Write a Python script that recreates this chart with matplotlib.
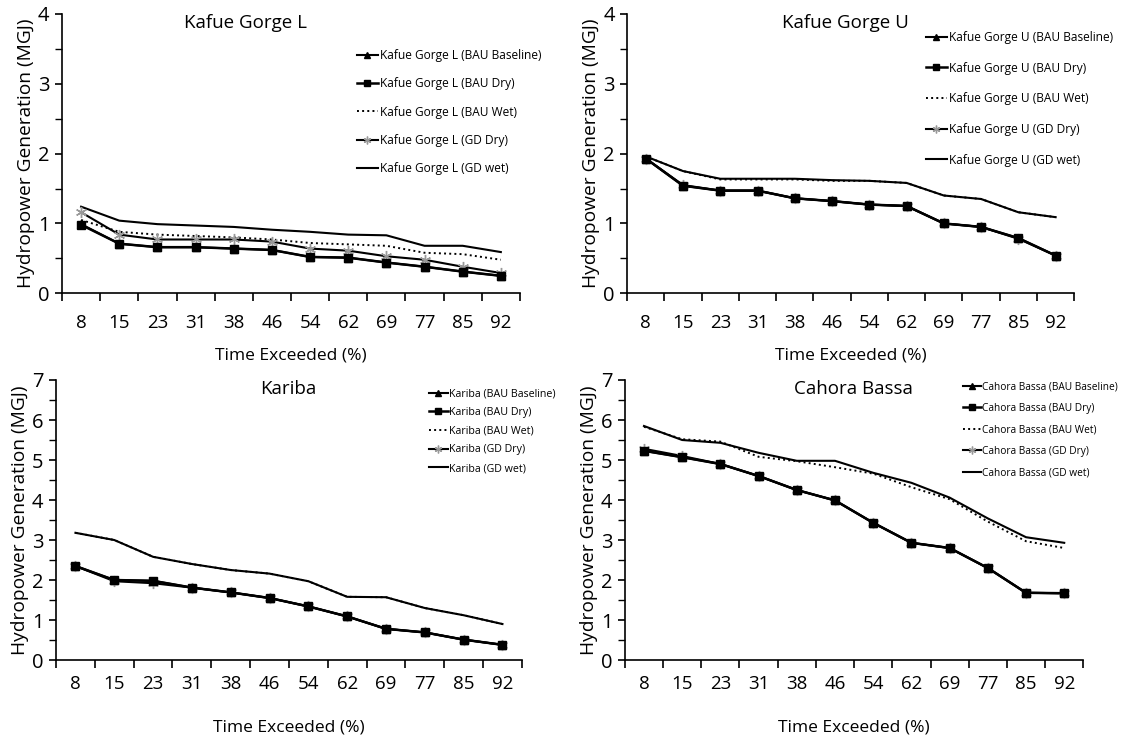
import numpy as np
import matplotlib.pyplot as plt
from matplotlib.ticker import FixedLocator, MultipleLocator

plt.rcParams['font.family'] = ['Open Sans', 'DejaVu Sans']

# categories (time exceeded, %)
exceed = ['8', '15', '23', '31', '38', '46', '54', '62', '69', '77', '85', '92']
scenarios = ['BAU Baseline', 'BAU Dry', 'BAU Wet', 'GD Dry', 'GD wet']

# Kafue Gorge L
kgl_bau_base = [0.99, 0.71, 0.66, 0.66, 0.64, 0.62, 0.52, 0.51, 0.44, 0.38, 0.31, 0.25]
kgl_bau_dry = [0.98, 0.71, 0.66, 0.66, 0.64, 0.62, 0.52, 0.51, 0.44, 0.38, 0.31, 0.25]
kgl_bau_wet = [1.05, 0.88, 0.84, 0.82, 0.80, 0.77, 0.72, 0.70, 0.68, 0.58, 0.56, 0.48]
kgl_gd_dry = [1.16, 0.84, 0.77, 0.77, 0.77, 0.74, 0.64, 0.61, 0.53, 0.48, 0.38, 0.29]
kgl_gd_wet = [1.24, 1.04, 0.99, 0.97, 0.95, 0.91, 0.88, 0.84, 0.83, 0.68, 0.68, 0.59]

# Kafue Gorge U
kgu_bau_base = [1.93, 1.54, 1.47, 1.47, 1.36, 1.32, 1.27, 1.25, 1.00, 0.95, 0.79, 0.54]
kgu_bau_dry = [1.93, 1.54, 1.47, 1.47, 1.36, 1.32, 1.27, 1.25, 1.00, 0.95, 0.79, 0.54]
kgu_bau_wet = [1.96, 1.75, 1.63, 1.63, 1.63, 1.61, 1.61, 1.58, 1.40, 1.35, 1.16, 1.09]
kgu_gd_dry = [1.93, 1.55, 1.47, 1.47, 1.36, 1.32, 1.27, 1.25, 1.00, 0.95, 0.78, 0.54]
kgu_gd_wet = [1.96, 1.75, 1.64, 1.64, 1.64, 1.62, 1.61, 1.58, 1.40, 1.35, 1.16, 1.09]

# Kariba
kar_bau_base = [2.35, 2.00, 1.98, 1.81, 1.69, 1.55, 1.34, 1.09, 0.78, 0.69, 0.51, 0.38]
kar_bau_dry = [2.35, 2.00, 1.98, 1.81, 1.69, 1.55, 1.34, 1.09, 0.78, 0.69, 0.51, 0.38]
kar_bau_wet = [3.18, 3.00, 2.58, 2.40, 2.25, 2.16, 1.97, 1.58, 1.57, 1.30, 1.12, 0.90]
kar_gd_dry = [2.35, 1.97, 1.92, 1.81, 1.69, 1.55, 1.34, 1.09, 0.78, 0.69, 0.51, 0.38]
kar_gd_wet = [3.18, 3.00, 2.58, 2.40, 2.25, 2.16, 1.97, 1.58, 1.57, 1.30, 1.12, 0.90]

# Cahora Bassa
cb_bau_base = [5.23, 5.07, 4.90, 4.60, 4.25, 3.99, 3.43, 2.93, 2.80, 2.30, 1.68, 1.67]
cb_bau_dry = [5.23, 5.07, 4.90, 4.60, 4.25, 3.99, 3.43, 2.93, 2.80, 2.30, 1.68, 1.67]
cb_bau_wet = [5.83, 5.52, 5.46, 5.08, 4.97, 4.82, 4.66, 4.32, 4.02, 3.46, 2.97, 2.80]
cb_gd_dry = [5.28, 5.10, 4.90, 4.60, 4.25, 3.99, 3.43, 2.93, 2.80, 2.30, 1.68, 1.67]
cb_gd_wet = [5.85, 5.50, 5.43, 5.18, 4.98, 4.98, 4.68, 4.43, 4.06, 3.54, 3.07, 2.93]

panels = [
    ('Kafue Gorge L', [kgl_bau_base, kgl_bau_dry, kgl_bau_wet, kgl_gd_dry, kgl_gd_wet], 4),
    ('Kafue Gorge U', [kgu_bau_base, kgu_bau_dry, kgu_bau_wet, kgu_gd_dry, kgu_gd_wet], 4),
    ('Kariba', [kar_bau_base, kar_bau_dry, kar_bau_wet, kar_gd_dry, kar_gd_wet], 7),
    ('Cahora Bassa', [cb_bau_base, cb_bau_dry, cb_bau_wet, cb_gd_dry, cb_gd_wet], 7),
]

# axes boxes [left, bottom, width, height] in figure fractions
boxes = [
    [0.0548, 0.601, 0.4045, 0.380],
    [0.554, 0.601, 0.395, 0.380],
    [0.0495, 0.102, 0.4115, 0.381],
    [0.552, 0.102, 0.405, 0.381],
]
title_x = [0.40, 0.488, 0.498, 0.498]
# legend placement (figure fractions, upper left corner), font and spacing
leg_anchor = [(0.3154, 0.9336), (0.818, 0.958), (0.379, 0.4716), (0.8507, 0.4807)]
leg_fs = [8.6, 8.6, 7.7, 7.3]
leg_space = [1.29, 1.48, 0.72, 1.02]
tick_pad = [15, 15, 11, 11]
xlab_pad = [11, 11, 19, 19]
# drawing order of the series (last one on top)
draw_order = [[4, 2, 3, 1, 0], [4, 2, 0, 3, 1], [4, 2, 0, 3, 1], [4, 2, 0, 3, 1]]

styles = [
    dict(color='black', lw=1.5, marker='^', ms=6),
    dict(color='black', lw=1.8, marker='s', ms=6),
    dict(color='black', lw=1.4, ls=':'),
    dict(color='black', lw=1.5, marker=(6, 2, 0), ms=8, mec='#999999', mfc='#999999'),
    dict(color='black', lw=1.5),
]

fig = plt.figure(figsize=(11.32, 7.35), dpi=100)
x = np.arange(len(exceed))

for i, (name, series, ymax) in enumerate(panels):
    ax = fig.add_axes(boxes[i])
    handles = [None] * 5
    for k in draw_order[i]:
        h, = ax.plot(x, series[k], label=name + ' (' + scenarios[k] + ')', **styles[k])
        handles[k] = h
    ax.set_xlim(-0.5, len(exceed) - 0.5)
    ax.set_ylim(0, ymax)
    ax.xaxis.set_major_locator(FixedLocator(np.arange(-0.5, len(exceed), 1.0)))
    ax.xaxis.set_minor_locator(FixedLocator(x))
    ax.set_xticklabels([], minor=False)
    ax.set_xticklabels(exceed, minor=True)
    ax.tick_params(axis='x', which='major', direction='out', length=6, width=1.2)
    ax.tick_params(axis='x', which='minor', length=0, pad=tick_pad[i], labelsize=13.5)
    ax.yaxis.set_major_locator(MultipleLocator(1))
    ax.yaxis.set_minor_locator(MultipleLocator(0.5))
    ax.tick_params(axis='y', which='major', direction='out', length=5, width=1.2, labelsize=14.5, pad=4)
    ax.tick_params(axis='y', which='minor', direction='out', length=5, width=1.0)
    for s in ['top', 'right']:
        ax.spines[s].set_visible(False)
    for s in ['left', 'bottom']:
        ax.spines[s].set_linewidth(1.2)
    ax.set_ylabel('Hydropower Generation (MGJ)', fontsize=13.8, labelpad=2)
    ax.set_xlabel('Time Exceeded (%)', fontsize=12.5, labelpad=xlab_pad[i])
    ax.text(title_x[i], 0.968, name, transform=ax.transAxes, ha='center', va='center', fontsize=13.5)
    ax.legend(handles=handles, loc='upper left', bbox_to_anchor=leg_anchor[i],
              bbox_transform=fig.transFigure, frameon=False, borderpad=0,
              fontsize=leg_fs[i], labelspacing=leg_space[i], handlelength=1.75,
              handletextpad=0.15, markerscale=0.7, borderaxespad=0)

fig.savefig('out.png', dpi=100)
